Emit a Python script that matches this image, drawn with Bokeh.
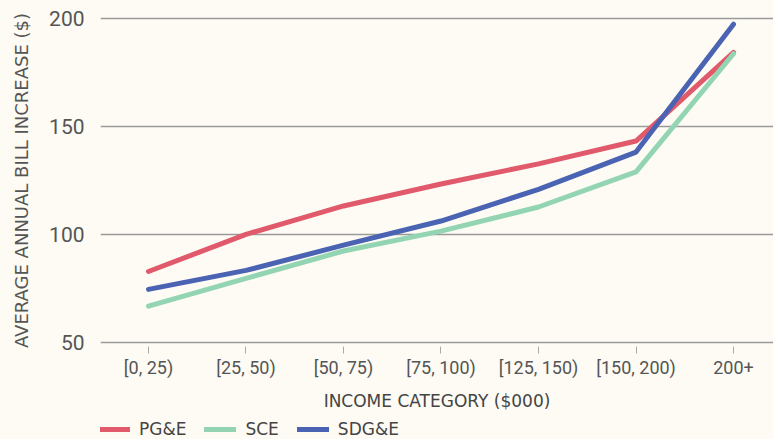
from bokeh.plotting import figure
from bokeh.models import Range1d, FixedTicker, Legend, LegendItem
from bokeh.layouts import column
from bokeh.embed import file_html
from bokeh.resources import INLINE

categories = ["[0, 25)", "[25, 50)", "[50, 75)", "[75, 100)", "[125, 150)", "[150, 200)", "200+"]
pge = [82.8, 100.0, 113.2, 123.4, 132.7, 143.3, 184.4]
sce = [66.7, 79.6, 92.3, 101.5, 112.7, 129.0, 183.8]
sdge = [74.5, 83.3, 95.0, 106.2, 120.9, 138.2, 197.5]
y_ticks = [50, 100, 150, 200]
series_names = ["PG&E", "SCE", "SDG&E"]
series_colors = ["#e05a6b", "#93d5b3", "#4a63b2"]

BG = "#fdfbf4"
TXT = "#555555"
FONT = "Roboto"
TFONT = "DejaVu Sans"

xs = list(range(len(categories)))

p = figure(width=773, height=418, output_backend="svg", toolbar_location=None,
           x_range=Range1d(-0.492, 6.41), y_range=Range1d(48, 202),
           min_border_left=100, min_border_right=0, min_border_top=14,
           min_border_bottom=72,
           background_fill_color=BG, border_fill_color=BG, outline_line_color=None)

for vals, col in zip([pge, sce, sdge], series_colors):
    p.line(xs, vals, line_color=col, line_width=5, line_cap="round", line_join="round")

p.xaxis.ticker = FixedTicker(ticks=xs)
p.xaxis.major_label_overrides = {i: c for i, c in enumerate(categories)}
p.xaxis.axis_line_color = None
p.xaxis.major_tick_in = 0
p.xaxis.major_tick_out = 7
p.xaxis.major_tick_line_color = "#aaaaaa"
p.xaxis.minor_tick_line_color = None
p.xaxis.major_label_text_font = FONT
p.xaxis.major_label_text_font_size = "18px"
p.xaxis.major_label_text_color = TXT
p.xaxis.major_label_standoff = 3
p.xaxis.axis_label = "INCOME CATEGORY ($000)"
p.xaxis.axis_label_text_font = TFONT
p.xaxis.axis_label_text_font_size = "17px"
p.xaxis.axis_label_text_font_style = "normal"
p.xaxis.axis_label_text_color = "#444444"
p.xaxis.axis_label_standoff = 10

p.yaxis.ticker = FixedTicker(ticks=y_ticks)
p.yaxis.axis_line_color = None
p.yaxis.major_tick_line_color = None
p.yaxis.minor_tick_line_color = None
p.yaxis.major_label_text_font = FONT
p.yaxis.major_label_text_font_size = "21px"
p.yaxis.major_label_text_color = TXT
p.yaxis.major_label_standoff = 10
p.yaxis.axis_label = "AVERAGE ANNUAL BILL INCREASE ($)"
p.yaxis.axis_label_text_font = TFONT
p.yaxis.axis_label_text_font_size = "18px"
p.yaxis.axis_label_text_font_style = "normal"
p.yaxis.axis_label_text_color = TXT
p.yaxis.axis_label_standoff = 14

p.xgrid.grid_line_color = None
p.ygrid.grid_line_color = "#9a9a9a"
p.ygrid.grid_line_width = 1.5

# legend strip below the chart
p2 = figure(width=773, height=21, output_backend="svg", toolbar_location=None,
            x_range=Range1d(0, 1), y_range=Range1d(0, 1),
            x_axis_location=None, y_axis_location=None,
            min_border_left=100, min_border_right=0, min_border_top=0, min_border_bottom=0,
            background_fill_color=BG, border_fill_color=BG, outline_line_color=None)
p2.grid.visible = False
items = []
for name, col in zip(series_names, series_colors):
    r = p2.line([-5, -4], [-5, -4], line_color=col, line_width=5, line_cap="round")
    items.append(LegendItem(label=name, renderers=[r]))
legend = Legend(items=items, orientation="horizontal", location=(-2, 0),
                background_fill_alpha=0, border_line_color=None,
                label_text_font=TFONT, label_text_font_size="17px", label_text_color="#444444",
                glyph_width=32, glyph_height=16, spacing=18, label_standoff=9,
                margin=0, padding=0)
p2.add_layout(legend)

layout = column(p, p2, spacing=0, background=BG)
open("out.html", "w").write(file_html(layout, INLINE))
